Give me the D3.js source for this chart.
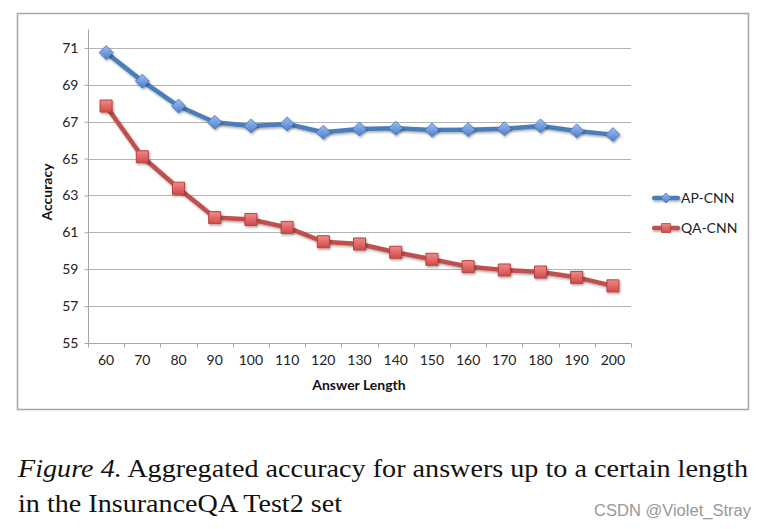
<!DOCTYPE html>
<html>
<head>
<meta charset="utf-8">
<script src="https://cdn.jsdelivr.net/npm/d3@7"></script>
<style>
  html, body { margin: 0; padding: 0; background: #fff; }
  svg { display: block; }
</style>
</head>
<body>
<svg id="chart" width="768" height="529"></svg>
<script>
const categories = ["60","70","80","90","100","110","120","130","140","150","160","170","180","190","200"];
const apCnn = [70.75, 69.2, 67.85, 66.97, 66.77, 66.88, 66.43, 66.6, 66.65, 66.55, 66.57, 66.62, 66.77, 66.5, 66.3];
const qaCnn = [67.85, 65.1, 63.39, 61.8, 61.7, 61.27, 60.49, 60.37, 59.92, 59.54, 59.14, 58.96, 58.85, 58.56, 58.1];
const yTicks = [55, 57, 59, 61, 63, 65, 67, 69, 71];
const seriesNames = ["AP-CNN", "QA-CNN"];
const captionLine1Italic = "Figure 4.";
const captionLine1Rest = " Aggregated accuracy for answers up to a certain length";
const captionLine2 = "in the InsuranceQA Test2 set";
const watermark = "CSDN @Violet_Stray";

const svg = d3.select("#chart");
const defs = svg.append("defs");
// shadow for markers (bounding box units)
const fm = defs.append("filter").attr("id", "shadowM")
  .attr("x", "-60%").attr("y", "-60%").attr("width", "220%").attr("height", "220%");
fm.append("feDropShadow").attr("dx", 1).attr("dy", 1.5).attr("stdDeviation", 1.2).attr("flood-color", "#000").attr("flood-opacity", 0.35);
// shadow for lines (user space)
const fl = defs.append("filter").attr("id", "shadowL").attr("filterUnits", "userSpaceOnUse")
  .attr("x", 0).attr("y", 0).attr("width", 768).attr("height", 529);
fl.append("feDropShadow").attr("dx", 1).attr("dy", 1.5).attr("stdDeviation", 1.2).attr("flood-color", "#000").attr("flood-opacity", 0.35);
const gb = defs.append("linearGradient").attr("id", "gBlue").attr("x1", 0).attr("y1", 0).attr("x2", 0).attr("y2", 1);
gb.append("stop").attr("offset", "0%").attr("stop-color", "#9dbdf0");
gb.append("stop").attr("offset", "100%").attr("stop-color", "#4a7fd0");
const gr = defs.append("linearGradient").attr("id", "gRed").attr("x1", 0).attr("y1", 0).attr("x2", 0).attr("y2", 1);
gr.append("stop").attr("offset", "0%").attr("stop-color", "#f08a88");
gr.append("stop").attr("offset", "100%").attr("stop-color", "#d24a48");

// outer frame
svg.append("rect").attr("x", 17.5).attr("y", 13.5).attr("width", 731).attr("height", 396)
  .attr("fill", "#fff").attr("stroke", "#a6a6a6").attr("stroke-width", 1.5);

const plot = { left: 88, right: 631, top: 29.5, bottom: 343 };
const x = d3.scaleBand().domain(categories).range([plot.left, plot.right]);
const y = d3.scaleLinear().domain([55, 72]).range([plot.bottom, plot.top]);

const sansFont = "Lato, 'Open Sans', sans-serif";

// gridlines
svg.append("g").selectAll("line").data(yTicks.filter(t => t !== 55)).join("line")
  .attr("x1", plot.left).attr("x2", plot.right)
  .attr("y1", d => Math.round(y(d)) + 0.5).attr("y2", d => Math.round(y(d)) + 0.5)
  .attr("stroke", "#b3b3b3").attr("stroke-width", 1);

// y axis
const yAxis = d3.axisLeft(y).tickValues(yTicks).tickSize(4).tickPadding(6);
const gy = svg.append("g").attr("transform", `translate(${plot.left + 0.5},0)`).call(yAxis);
gy.select(".domain").attr("stroke", "#a6a6a6").attr("d", `M-0,${plot.top}V${plot.bottom}`);
gy.selectAll(".tick line").attr("stroke", "#a6a6a6");
gy.selectAll(".tick text").attr("font-family", sansFont).attr("font-size", 14).attr("fill", "#222");

// x axis
const xAxis = d3.axisBottom(x).tickSize(0).tickPadding(12);
const gx = svg.append("g").attr("transform", `translate(0,${plot.bottom + 0.5})`).call(xAxis);
gx.select(".domain").attr("stroke", "#a6a6a6").attr("d", `M${plot.left},0H${plot.right}`);
gx.selectAll(".tick text").attr("font-family", sansFont).attr("font-size", 14).attr("fill", "#222");
// category boundary ticks
const bounds = categories.map(c => x(c)).concat([x(categories[categories.length - 1]) + x.bandwidth()]);
gx.append("g").selectAll("line").data(bounds).join("line")
  .attr("x1", d => Math.round(d) + 0.5).attr("x2", d => Math.round(d) + 0.5)
  .attr("y1", 0).attr("y2", 4).attr("stroke", "#a6a6a6");

// axis titles
svg.append("text").attr("x", 359).attr("y", 390).attr("text-anchor", "middle")
  .attr("font-family", sansFont).attr("font-weight", "bold").attr("font-size", 14)
  .attr("fill", "#111").text("Answer Length");
svg.append("text").attr("transform", "translate(52,192) rotate(-90)").attr("text-anchor", "middle")
  .attr("font-family", sansFont).attr("font-weight", "bold").attr("font-size", 14)
  .attr("fill", "#111").text("Accuracy");

const cx = c => x(c) + x.bandwidth() / 2;
const line = d3.line().x((d, i) => cx(categories[i])).y(d => y(d));

// series lines
svg.append("path").datum(qaCnn).attr("d", line).attr("fill", "none")
  .attr("stroke", "#c0504d").attr("stroke-width", 4.5).attr("stroke-linejoin", "round").attr("filter", "url(#shadowL)");
svg.append("path").datum(apCnn).attr("d", line).attr("fill", "none")
  .attr("stroke", "#4a7ebb").attr("stroke-width", 4.5).attr("stroke-linejoin", "round").attr("filter", "url(#shadowL)");

const diamond = s => `M0,${-s}L${s},0L0,${s}L${-s},0Z`;
const square = s => `M${-s},${-s}H${s}V${s}H${-s}Z`;

// markers
svg.append("g").selectAll("path").data(qaCnn).join("path")
  .attr("transform", (d, i) => `translate(${cx(categories[i])},${y(d)})`)
  .attr("d", square(6)).attr("fill", "url(#gRed)").attr("stroke", "#b8413e").attr("stroke-width", 1)
  .attr("filter", "url(#shadowM)");
svg.append("g").selectAll("path").data(apCnn).join("path")
  .attr("transform", (d, i) => `translate(${cx(categories[i])},${y(d)})`)
  .attr("d", diamond(7)).attr("fill", "url(#gBlue)").attr("stroke", "#4376b8").attr("stroke-width", 0.8)
  .attr("filter", "url(#shadowM)");

// legend
const legend = [
  { name: seriesNames[0], color: "#4a7ebb", y: 198, shape: diamond(5), fill: "url(#gBlue)", stroke: "#4376b8" },
  { name: seriesNames[1], color: "#c0504d", y: 228, shape: square(4.5), fill: "url(#gRed)", stroke: "#b8413e" }
];
const lg = svg.append("g").selectAll("g").data(legend).join("g");
lg.append("rect").attr("x", 652).attr("width", 28).attr("y", d => d.y - 2.25).attr("height", 4.5)
  .attr("rx", 2).attr("fill", d => d.color).attr("filter", "url(#shadowL)");
lg.append("path").attr("transform", d => `translate(666,${d.y})`).attr("d", d => d.shape)
  .attr("fill", d => d.fill).attr("stroke", d => d.stroke).attr("stroke-width", 0.8);
lg.append("text").attr("x", 681).attr("y", d => d.y + 5)
  .attr("font-family", sansFont).attr("font-size", 14).attr("fill", "#222")
  .text(d => d.name);

// caption
const serif = "'Liberation Serif', Tinos, 'Nimbus Roman', 'Nimbus Roman No9 L', FreeSerif, 'Times New Roman', Times, serif";
const cap1 = svg.append("text").attr("x", 18).attr("y", 477)
  .attr("font-family", serif).attr("font-size", 26).attr("fill", "#111")
  .attr("textLength", 730).attr("lengthAdjust", "spacingAndGlyphs");
cap1.append("tspan").attr("font-style", "italic").text(captionLine1Italic);
cap1.append("tspan").text(captionLine1Rest);
svg.append("text").attr("x", 18).attr("y", 512)
  .attr("font-family", serif).attr("font-size", 26).attr("fill", "#111")
  .attr("textLength", 324).attr("lengthAdjust", "spacingAndGlyphs")
  .text(captionLine2);

// watermark
svg.append("text").attr("x", 594).attr("y", 516)
  .attr("font-family", "'Liberation Sans Narrow', 'Liberation Sans', Arial, sans-serif").attr("font-size", 16).attr("fill", "#999")
  .attr("textLength", 157).attr("lengthAdjust", "spacingAndGlyphs")
  .text(watermark);
</script>
</body>
</html>
